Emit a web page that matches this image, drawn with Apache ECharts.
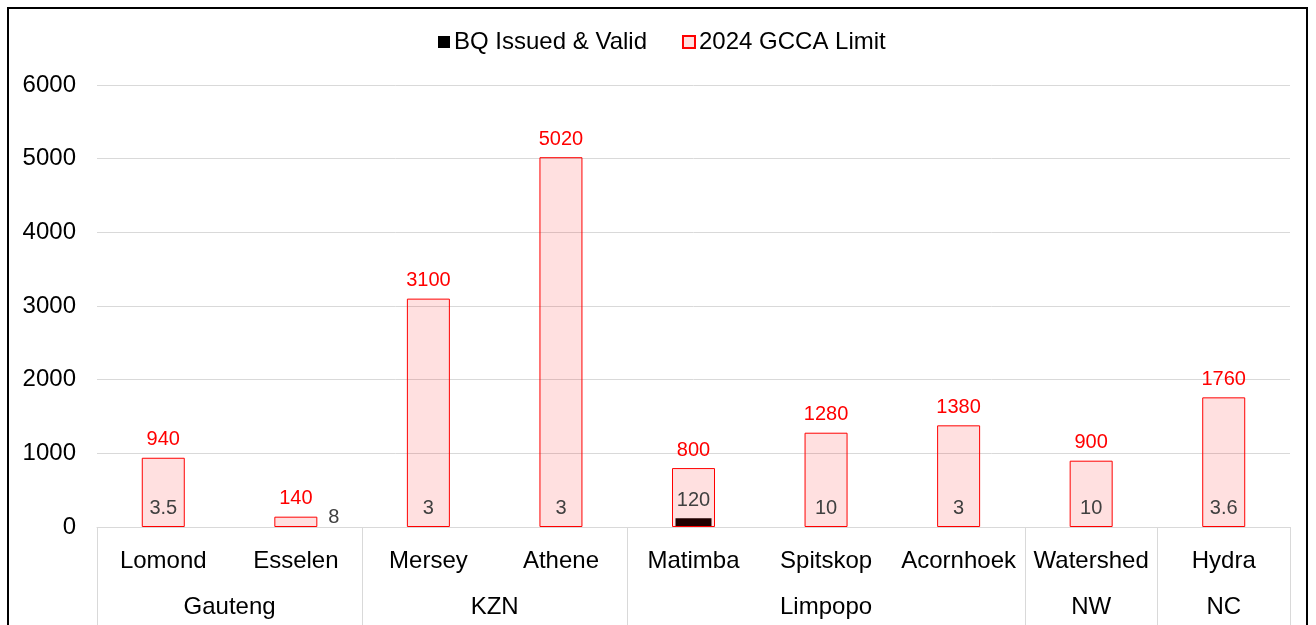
<!DOCTYPE html>
<html><head><meta charset="utf-8">
<script src="https://cdn.jsdelivr.net/npm/echarts@6/dist/echarts.min.js"></script>
<style>html,body{margin:0;padding:0;background:#fff}#c{width:1316px;height:625px}</style>
</head><body><div id="c"></div>
<script>
const categories = ['Lomond','Esselen','Mersey','Athene','Matimba','Spitskop','Acornhoek','Watershed','Hydra'];
const bqValues = [3.5, 8, 3, 3, 120, 10, 3, 10, 3.6];
const limitValues = [940, 140, 3100, 5020, 800, 1280, 1380, 900, 1760];
const groupNames = ['Gauteng','KZN','Limpopo','NW','NC'];
const groupSizes = [2, 2, 3, 1, 1];
const yTicks = [0, 1000, 2000, 3000, 4000, 5000, 6000];

const FONT = '"Liberation Sans", Arial, sans-serif';
const bounds = [0]; const centers = [];
groupSizes.forEach(s => { const b = bounds[bounds.length-1]; centers.push(b + s/2); bounds.push(b + s); });

const chart = echarts.init(document.getElementById('c'));
chart.setOption({
  animation: false,
  textStyle: { fontFamily: FONT },
  graphic: [{ type: 'rect', shape: { x: 8, y: 8, width: 1299, height: 700 }, style: { fill: 'none', stroke: '#000', lineWidth: 2 }, z: 100 }],
  legend: {
    left: 433, top: 25, itemWidth: 12, itemHeight: 12, itemGap: 35, icon: 'rect',
    textStyle: { fontSize: 24, color: '#000', fontFamily: FONT, padding: [0,0,0,-1] },
    data: ['BQ Issued & Valid', '2024 GCCA Limit']
  },
  grid: { left: 97, right: 26, top: 85, bottom: 98 },
  xAxis: [
    { type: 'category', data: categories, position: 'bottom',
      axisLine: { show: true, lineStyle: { color: '#d9d9d9', width: 1 } },
      axisTick: { show: false },
      axisLabel: { fontSize: 24, color: '#000', margin: 22, fontFamily: FONT, interval: 0 } },
    { type: 'value', min: 0, max: categories.length, position: 'bottom',
      axisLine: { show: false }, splitLine: { show: false },
      axisTick: { show: true, customValues: bounds, length: 100, lineStyle: { color: '#d9d9d9', width: 1 } },
      axisLabel: { show: true, customValues: centers, fontSize: 24, color: '#000', margin: 68, fontFamily: FONT,
        formatter: v => { const i = centers.findIndex(c => Math.abs(c - v) < 1e-6); return i >= 0 ? groupNames[i] : ''; } } },
    { type: 'category', data: categories, show: false }
  ],
  yAxis: {
    type: 'value', min: yTicks[0], max: yTicks[yTicks.length-1], interval: 1000,
    axisLine: { show: false }, axisTick: { show: false },
    splitLine: { lineStyle: { color: '#d9d9d9', width: 1 } },
    axisLabel: { fontSize: 24, color: '#000', margin: 21, fontFamily: FONT, formatter: v => String(v) }
  },
  series: [
    { name: 'BQ Issued & Valid', type: 'bar', xAxisIndex: 2, barWidth: 36,
      itemStyle: { color: '#000' },
      data: bqValues.map((v, i) => i === 1 ? { value: v, label: { offset: [38, 9] } } : v),
      label: { show: true, position: 'top', distance: 8, fontSize: 20, color: '#404040', fontFamily: FONT } },
    { name: '2024 GCCA Limit', type: 'bar', xAxisIndex: 0, barWidth: 43,
      itemStyle: { color: 'rgba(255,0,0,0.12)', borderColor: '#ff0000', borderWidth: 1 },
      data: limitValues,
      label: { show: true, position: 'top', distance: 8, fontSize: 20, color: '#ff0000', fontFamily: FONT } }
  ]
});
</script></body></html>
